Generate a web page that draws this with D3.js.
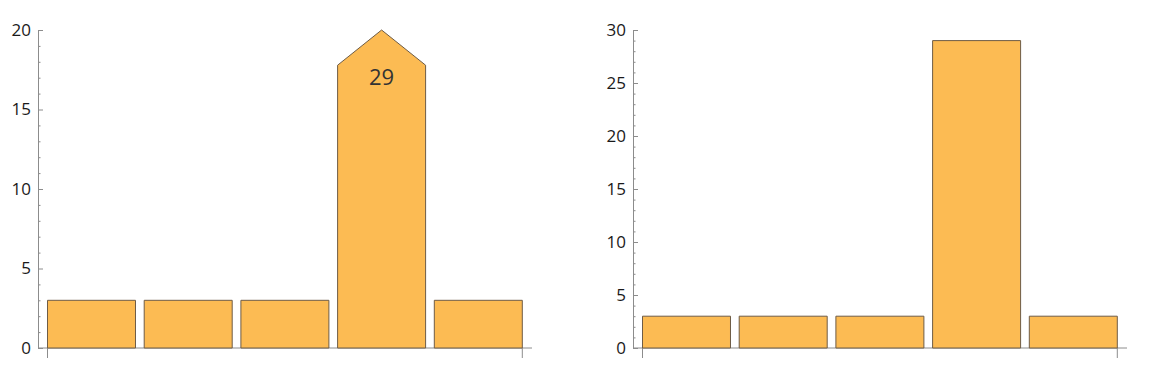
<!DOCTYPE html>
<html>
<head>
<meta charset="utf-8">
<script src="https://cdn.jsdelivr.net/npm/d3@7"></script>
<style>
  body { margin: 0; background: #fff; }
  svg text { font-family: "Open Sans", "Noto Sans", sans-serif; }
</style>
</head>
<body>
<svg id="chart" width="1156" height="380"></svg>
<script>
// data
const categories = ["a", "b", "c", "d", "e"];
const values = [3, 3, 3, 29, 3];
const leftTicks = [0, 5, 10, 15, 20];
const rightTicks = [0, 5, 10, 15, 20, 25, 30];
const leftMax = 20;
const rightMax = 30;

const svg = d3.select("#chart");

const barFill = "#fcbb53",
  barEdge = "#6e5c46",
  axisColor = "#8c8c8c";

// one panel: axisX is where the y axis sits
function drawPanel(axisX, yMax, ticks) {
  const g = svg.append("g");

  const y = d3.scaleLinear()
    .domain([0, yMax])
    .range([348, 30]);

  const x = d3.scaleBand()
    .domain(categories)
    .range([axisX + 9.5, axisX + 484.3])
    .paddingInner(0.09)
    .paddingOuter(0);

  // minor ticks every 1
  const minor = d3.range(0, yMax + 1).filter(v => v % 5 !== 0);
  g.append("g")
    .attr("transform", `translate(${axisX},0)`)
    .call(d3.axisLeft(y).tickValues(minor).tickSize(-2.5).tickFormat(""))
    .call(a => a.select(".domain").remove())
    .call(a => a.selectAll("line").attr("stroke", axisColor));

  // major ticks + labels
  g.append("g")
    .attr("transform", `translate(${axisX},0)`)
    .call(d3.axisLeft(y).tickValues(ticks).tickSize(-5).tickSizeOuter(0).tickPadding(7))
    .call(a => a.select(".domain").attr("stroke", axisColor))
    .call(a => a.selectAll("line").attr("stroke", axisColor))
    .call(a => a.selectAll("text")
      .attr("font-size", 17)
      .attr("fill", "#1a1a1a")
      .attr("font-family", "'Open Sans', 'Noto Sans', sans-serif"));

  // x axis line
  g.append("line")
    .attr("x1", axisX).attr("x2", axisX + 494)
    .attr("y1", y(0)).attr("y2", y(0))
    .attr("stroke", axisColor);

  // end ticks of the x axis
  g.selectAll(".xtick")
    .data(x.range())
    .join("line")
    .attr("class", "xtick")
    .attr("x1", d => d).attr("x2", d => d)
    .attr("y1", y(0)).attr("y2", y(0) + 10)
    .attr("stroke", axisColor);

  // bars (clipped ones get a pointed top)
  const bars = categories.map((c, i) => ({ c, v: values[i] }));
  g.selectAll(".bar")
    .data(bars)
    .join("path")
    .attr("class", "bar")
    .attr("fill", barFill)
    .attr("stroke", barEdge)
    .attr("stroke-width", 1)
    .attr("d", d => {
      const x0 = x(d.c), x1 = x0 + x.bandwidth(), yb = y(0);
      if (d.v <= yMax) {
        const yt = y(d.v);
        return `M${x0},${yb}V${yt}H${x1}V${yb}Z`;
      }
      const peak = y(yMax);
      const shoulder = peak + x.bandwidth() * 0.4;
      return `M${x0},${yb}V${shoulder}L${(x0 + x1) / 2},${peak}L${x1},${shoulder}V${yb}Z`;
    });

  // value label on clipped bars
  g.selectAll(".clip-label")
    .data(bars.filter(d => d.v > yMax))
    .join("text")
    .attr("class", "clip-label")
    .attr("x", d => x(d.c) + x.bandwidth() / 2)
    .attr("y", y(yMax) + 46)
    .attr("text-anchor", "middle")
    .attr("dominant-baseline", "central")
    .attr("font-size", 22)
    .attr("fill", "#333")
    .text(d => d.v);
}

drawPanel(38, leftMax, leftTicks);
drawPanel(633, rightMax, rightTicks);
</script>
</body>
</html>
